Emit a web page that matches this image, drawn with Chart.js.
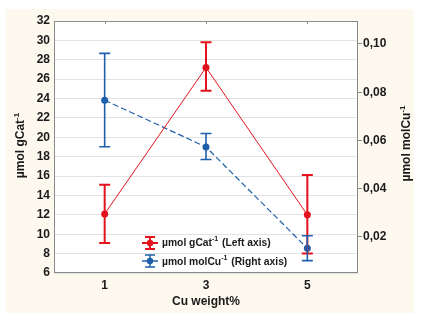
<!DOCTYPE html>
<html>
<head>
<meta charset="utf-8">
<script src="https://cdn.jsdelivr.net/npm/chart.js@4"></script>
<style>
  body { margin: 0; background: #fff; }
</style>
</head>
<body>
<canvas id="chart" width="421" height="322"></canvas>
<script>
// Cu loading (x) and the two series with their error bar limits
const cuWeight = [1, 3, 5];
const gCat = [12.1, 27.2, 12.0];
const gCatLow = [9.1, 24.8, 8.0];
const gCatHigh = [15.1, 29.8, 16.1];
const molCu = [0.0767, 0.0573, 0.0153];
const molCuLow = [0.0574, 0.0521, 0.0102];
const molCuHigh = [0.0961, 0.0629, 0.0205];
const rightTicks = [0.02, 0.04, 0.06, 0.08, 0.10];

const red = "#e3121c";
const blue = "#1f5fac";
const fontFam = "'Liberation Sans', Arial, sans-serif";

const toPoints = (ys) => cuWeight.map((x, i) => ({ x: x, y: ys[i] }));

// draws a string with a "-1" superscript after the first part
const supText = (ctx, x, y, before, after, size) => {
  ctx.font = "bold " + size + "px " + fontFam;
  ctx.fillText(before, x, y);
  let w = ctx.measureText(before).width;
  ctx.font = "bold " + Math.round(size * 0.7) + "px " + fontFam;
  ctx.fillText("-1", x + w, y - size * 0.38);
  w += ctx.measureText("-1").width;
  ctx.font = "bold " + size + "px " + fontFam;
  ctx.fillText(after, x + w + 1, y);
  return w + 1 + ctx.measureText(after).width;
};
const supWidth = (ctx, before, after, size) => {
  ctx.font = "bold " + size + "px " + fontFam;
  let w = ctx.measureText(before).width + ctx.measureText(after).width + 1;
  ctx.font = "bold " + Math.round(size * 0.7) + "px " + fontFam;
  return w + ctx.measureText("-1").width;
};

const errorBarSymbol = (ctx, x, y, color, h, lw) => {
  ctx.strokeStyle = color;
  ctx.lineWidth = lw;
  ctx.beginPath();
  ctx.moveTo(x, y - h); ctx.lineTo(x, y + h);
  ctx.moveTo(x - 5, y - h); ctx.lineTo(x + 5, y - h);
  ctx.moveTo(x - 5, y + h); ctx.lineTo(x + 5, y + h);
  ctx.moveTo(x - 8, y); ctx.lineTo(x + 8, y);
  ctx.stroke();
  ctx.fillStyle = color;
  ctx.beginPath();
  ctx.arc(x, y, 3.2, 0, Math.PI * 2);
  ctx.fill();
};

const decor = {
  id: "decor",
  beforeDraw(chart) {
    const ctx = chart.ctx;
    ctx.save();
    ctx.fillStyle = "#fdf9ee";
    ctx.fillRect(6, 9, 408, 304);
    const a = chart.chartArea;
    ctx.fillStyle = "#ffffff";
    ctx.fillRect(a.left, a.top, a.right - a.left, a.bottom - a.top);
    ctx.restore();
  },
  afterDatasetsDraw(chart) {
    const ctx = chart.ctx;
    const sets = [
      { meta: chart.getDatasetMeta(0), lo: gCatLow, hi: gCatHigh, color: red, lw: 2 },
      { meta: chart.getDatasetMeta(1), lo: molCuLow, hi: molCuHigh, color: blue, lw: 1.6 }
    ];
    ctx.save();
    sets.forEach((s) => {
      const ys = chart.scales[s.meta.yAxisID];
      ctx.strokeStyle = s.color;
      ctx.lineWidth = s.lw;
      cuWeight.forEach((xv, i) => {
        const x = chart.scales.x.getPixelForValue(xv);
        const y1 = ys.getPixelForValue(s.lo[i]);
        const y2 = ys.getPixelForValue(s.hi[i]);
        ctx.beginPath();
        ctx.moveTo(x, y1); ctx.lineTo(x, y2);
        ctx.moveTo(x - 5.5, y1); ctx.lineTo(x + 5.5, y1);
        ctx.moveTo(x - 5.5, y2); ctx.lineTo(x + 5.5, y2);
        ctx.stroke();
      });
    });
    ctx.restore();
  },
  afterDraw(chart) {
    const ctx = chart.ctx;
    const a = chart.chartArea;
    ctx.save();
    // plot frame
    ctx.strokeStyle = "#8a8a8a";
    ctx.lineWidth = 1;
    ctx.strokeRect(a.left + 0.5, a.top + 0.5, a.right - a.left - 1, a.bottom - a.top - 1);
    // small ticks on the top edge
    cuWeight.forEach((xv) => {
      const x = Math.round(chart.scales.x.getPixelForValue(xv)) + 0.5;
      ctx.beginPath();
      ctx.moveTo(x, a.top); ctx.lineTo(x, a.top + 3);
      ctx.stroke();
    });

    ctx.fillStyle = "#1a1a1a";
    ctx.textBaseline = "middle";
    ctx.textAlign = "left";
    // left axis title
    ctx.save();
    ctx.translate(21, 145);
    ctx.rotate(-Math.PI / 2);
    let w = supWidth(ctx, "µmol gCat", "", 12);
    supText(ctx, -w / 2, 0, "µmol gCat", "", 12);
    ctx.restore();
    // right axis title
    ctx.save();
    ctx.translate(407, 143);
    ctx.rotate(-Math.PI / 2);
    w = supWidth(ctx, "µmol molCu", "", 12);
    supText(ctx, -w / 2, 0, "µmol molCu", "", 12);
    ctx.restore();
    // x axis title
    ctx.textAlign = "center";
    ctx.font = "bold 12px " + fontFam;
    ctx.fillText("Cu weight%", (a.left + a.right) / 2, 302);

    // legend
    ctx.textAlign = "left";
    errorBarSymbol(ctx, 150, 243, red, 6, 2);
    errorBarSymbol(ctx, 150, 261, blue, 6, 1.5);
    ctx.fillStyle = "#1a1a1a";
    supText(ctx, 162, 243, "µmol gCat", " (Left axis)", 10.3);
    supText(ctx, 162, 262, "µmol molCu", " (Right axis)", 10.3);
    ctx.restore();
  }
};

new Chart(document.getElementById("chart").getContext("2d"), {
  type: "line",
  data: {
    datasets: [
      {
        label: "µmol gCat-1 (Left axis)",
        data: toPoints(gCat),
        yAxisID: "y",
        borderColor: red,
        backgroundColor: red,
        borderWidth: 1,
        pointRadius: 3.5,
        pointBorderWidth: 0,
        tension: 0
      },
      {
        label: "µmol molCu-1 (Right axis)",
        data: toPoints(molCu),
        yAxisID: "y1",
        borderColor: blue,
        backgroundColor: blue,
        borderWidth: 1.2,
        borderDash: [6, 3],
        pointRadius: 3.5,
        pointBorderWidth: 0,
        tension: 0
      }
    ]
  },
  options: {
    responsive: false,
    animation: false,
    layout: { padding: { top: 21, left: 0, right: 0, bottom: 0 } },
    plugins: {
      legend: { display: false },
      tooltip: { enabled: false }
    },
    scales: {
      x: {
        type: "linear",
        min: 0,
        max: 6,
        afterBuildTicks: (scale) => { scale.ticks = cuWeight.map((v) => ({ value: v })); },
        afterFit: (scale) => { scale.height = 49; },
        grid: { display: false, drawTicks: false },
        border: { display: false },
        ticks: {
          color: "#1a1a1a",
          padding: 5,
          font: { family: fontFam, size: 12, weight: "bold" }
        }
      },
      y: {
        position: "left",
        min: 6,
        max: 32,
        afterFit: (scale) => { scale.width = 54; },
        grid: { color: "#e2e2e2", drawTicks: false },
        border: { display: false },
        ticks: {
          stepSize: 2,
          color: "#1a1a1a",
          padding: 4,
          font: { family: fontFam, size: 12, weight: "bold" }
        }
      },
      y1: {
        position: "right",
        min: 0.00508,
        max: 0.1095,
        afterBuildTicks: (scale) => { scale.ticks = rightTicks.map((v) => ({ value: v })); },
        afterFit: (scale) => { scale.width = 63; },
        grid: { drawOnChartArea: false, color: "#8a8a8a", tickLength: 4 },
        border: { display: false },
        ticks: {
          color: "#1a1a1a",
          padding: 1,
          font: { family: fontFam, size: 12, weight: "bold" },
          callback: (v) => v.toFixed(2).replace(".", ",")
        }
      }
    }
  },
  plugins: [decor]
});
</script>
</body>
</html>
